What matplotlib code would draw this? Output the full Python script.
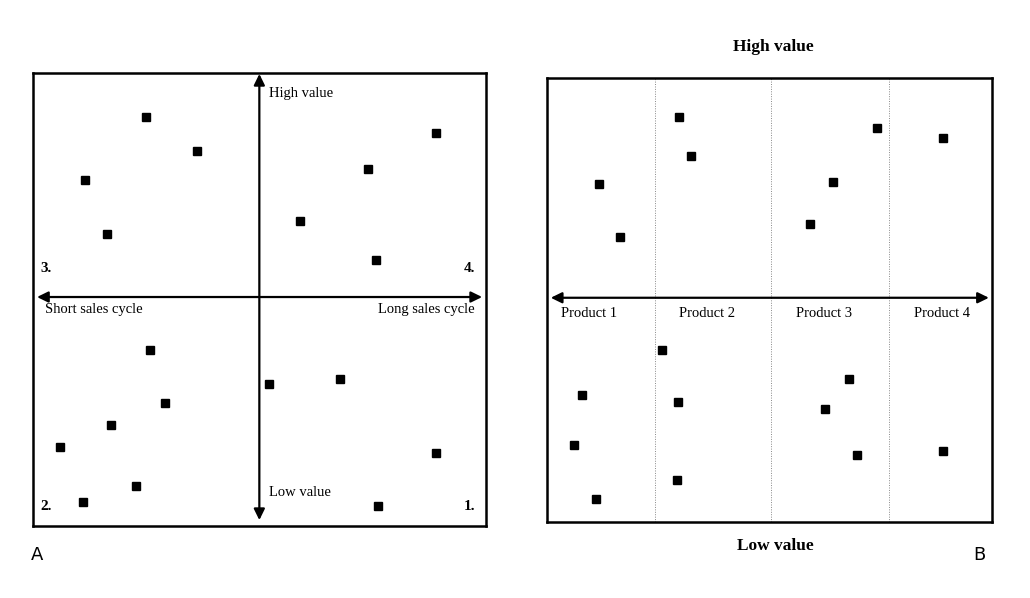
import numpy as np
import matplotlib.pyplot as plt

plt.rcParams['font.family'] = ['Liberation Serif', 'DejaVu Serif']

# panel A: quadrant scatter (x = sales cycle, y = value)
a_x = [-0.500, -0.275, -0.769, -0.672, 0.180, 0.480, 0.781, 0.514,
       -0.483, -0.415, -0.653, -0.880, -0.544, -0.780, 0.041, 0.358, 0.781, 0.523]
a_y = [0.793, 0.646, 0.517, 0.277, 0.336, 0.565, 0.724, 0.163,
       -0.233, -0.467, -0.565, -0.664, -0.836, -0.904, -0.385, -0.362, -0.690, -0.921]
quad_labels = ["3.", "4.", "2.", "1."]

# panel B: products
b_x = [0.462, 0.656, 1.187, 1.292, 2.569, 2.362, 2.962, 3.561,
       0.312, 0.243, 0.441, 1.034, 1.173, 1.169, 2.716, 2.497, 2.782, 3.561]
b_y = [1.023, 0.544, 1.623, 1.279, 1.041, 0.667, 1.527, 1.441,
       -0.877, -1.329, -1.809, -0.469, -0.937, -1.644, -0.727, -1.003, -1.414, -1.380]
products = ["Product 1", "Product 2", "Product 3", "Product 4"]
product_pos = [0.372, 1.437, 2.490, 3.552]
dividers = [0.966, 2.014, 3.07]

fig = plt.figure(figsize=(10.30, 5.98), dpi=100)

arrow = dict(arrowstyle='<|-|>,head_length=0.55,head_width=0.27', color='black',
             lw=1.6, mutation_scale=12, shrinkA=0, shrinkB=0)
fs = 10.5

# ---- A ----
ax = fig.add_axes([0.0320, 0.1204, 0.4398, 0.7575])
ax.set_xlim(-0.999, 1.0)
ax.set_ylim(-1.011, 0.989)
ax.plot(a_x, a_y, 's', color='black', ms=6.3, ls='none')
ax.annotate('', xy=(0.983, 0), xytext=(-0.981, 0), arrowprops=arrow)
ax.annotate('', xy=(0, 0.985), xytext=(0, -0.985), arrowprops=arrow)
ax.text(0.044, 0.90, "High value", fontsize=fs, va='center', ha='left')
ax.text(0.044, -0.865, "Low value", fontsize=fs, va='center', ha='left')
ax.text(-0.946, -0.053, "Short sales cycle", fontsize=fs, va='center', ha='left')
ax.text(0.952, -0.053, "Long sales cycle", fontsize=fs, va='center', ha='right')
qkw = dict(fontsize=fs + 0.5, fontweight='bold', va='center')
ax.text(-0.965, 0.128, quad_labels[0], ha='left', **qkw)
ax.text(0.952, 0.128, quad_labels[1], ha='right', **qkw)
ax.text(-0.965, -0.927, quad_labels[2], ha='left', **qkw)
ax.text(0.952, -0.927, quad_labels[3], ha='right', **qkw)
ax.set_xticks([])
ax.set_yticks([])
for s in ax.spines.values():
    s.set_linewidth(1.8)

# ---- B ----
bx = fig.add_axes([0.5314, 0.1266, 0.4317, 0.7435])
bx.set_xlim(0, 4.0)
bx.set_ylim(-2.02, 1.98)
for d in dividers:
    bx.axvline(d, color='#888888', lw=0.7, ls=(0, (1, 1.5)))
bx.plot(b_x, b_y, 's', color='black', ms=6.3, ls='none')
bx.annotate('', xy=(3.972, 0), xytext=(0.031, 0), arrowprops=arrow)
for p, name in zip(product_pos, products):
    bx.text(p, -0.139, name, fontsize=fs, va='center', ha='center')
bx.text(2.035, 2.26, "High value", fontsize=12.5, fontweight='bold', va='center', ha='center')
bx.text(2.05, -2.233, "Low value", fontsize=12.5, fontweight='bold', va='center', ha='center')
bx.set_xticks([])
bx.set_yticks([])
for s in bx.spines.values():
    s.set_linewidth(1.8)

fig.text(37 / 1030, 1 - 555 / 598, "A", fontsize=13, family='DejaVu Sans', ha='center', va='center')
fig.text(979 / 1030, 1 - 555 / 598, "B", fontsize=13, family='DejaVu Sans', ha='center', va='center')

fig.savefig('out.png', dpi=100)
